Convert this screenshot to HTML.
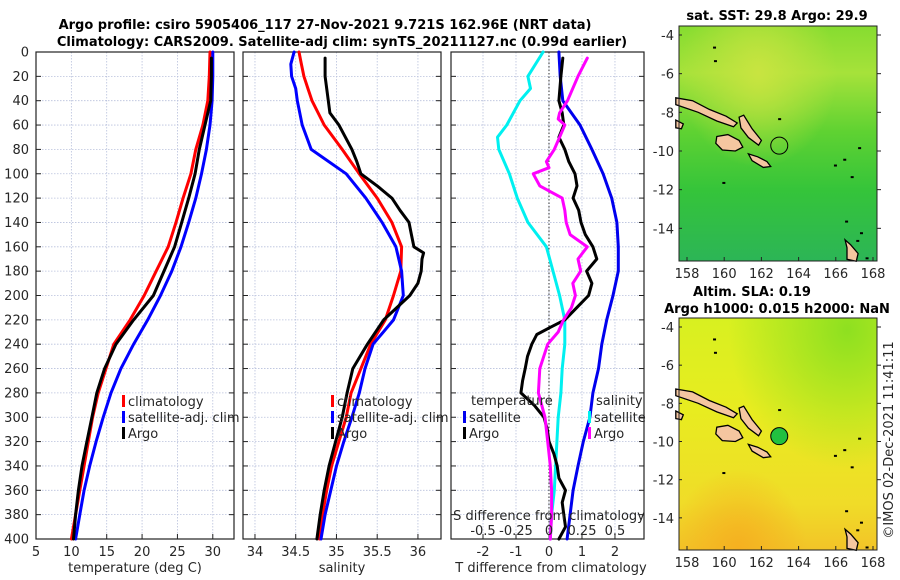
<!DOCTYPE html>
<html><head><meta charset="utf-8">
<style>
html,body{margin:0;padding:0;background:#fff;}
svg{display:block;font-family:"DejaVu Sans","Liberation Sans",sans-serif;}
</style></head>
<body>
<svg id="fig" width="900" height="580" viewBox="0 0 900 580" xmlns="http://www.w3.org/2000/svg">
<defs>
<linearGradient id="sstGrad" x1="0" y1="0" x2="0" y2="1">
<stop offset="0" stop-color="#86dc30"/><stop offset="0.2" stop-color="#a6e23a"/><stop offset="0.45" stop-color="#5fd232"/><stop offset="0.7" stop-color="#35c43a"/><stop offset="1" stop-color="#2cb556"/>
</linearGradient>
<linearGradient id="slaGrad" x1="0" y1="0" x2="0" y2="1">
<stop offset="0" stop-color="#d8f020"/><stop offset="0.4" stop-color="#e8ec20"/><stop offset="0.8" stop-color="#f0dc28"/><stop offset="1" stop-color="#f2c428"/>
</linearGradient>
<radialGradient id="slaGreen" cx="0.85" cy="0.05" r="0.6"><stop offset="0" stop-color="#8ee020"/><stop offset="1" stop-color="#8ee020" stop-opacity="0"/></radialGradient>
<radialGradient id="slaOrange" cx="0.3" cy="1" r="0.35"><stop offset="0" stop-color="#f5b020"/><stop offset="1" stop-color="#f5b020" stop-opacity="0"/></radialGradient>
<radialGradient id="sstYellow" cx="0.4" cy="0.2" r="0.4"><stop offset="0" stop-color="#c8e440"/><stop offset="1" stop-color="#c8e440" stop-opacity="0"/></radialGradient>
</defs>
<g id="layer"></g>
</svg>
<script>
// ---------- data ----------
const depths20 = [0,20,40,60,80,100,120,140,160,180,200,220,240,260,280,300,320,340,360,380,400];
const tempClim = [29.6,29.5,29.3,28.6,27.6,26.9,25.8,24.8,23.7,22.0,20.3,18.3,16.0,14.9,13.8,13.0,12.4,11.8,11.2,10.6,10.0];
const tempSat  = [30.0,30.0,29.9,29.6,29.1,28.4,27.6,26.6,25.5,24.2,22.6,20.8,18.8,17.0,15.6,14.5,13.5,12.6,11.8,11.2,10.6];
const argoDepths = [5,20,40,60,80,100,120,140,160,180,200,220,240,260,280,300,320,340,360,380,400];
const tempArgo = [29.8,29.8,29.7,28.9,28.1,27.5,26.6,25.6,24.6,23.1,21.6,18.8,16.3,14.7,13.6,12.9,12.2,11.5,11.0,10.6,10.3];

const salDepths = [0,10,20,30,40,60,80,100,120,140,160,180,200,220,240,260,280,300,320,340,360,380,400];
const salClim = [34.54,34.57,34.60,34.65,34.70,34.85,35.07,35.28,35.50,35.68,35.80,35.79,35.70,35.60,35.42,35.30,35.18,35.12,35.03,34.94,34.88,34.83,34.79];
const salSat  = [34.48,34.44,34.45,34.50,34.52,34.58,34.69,35.12,35.36,35.56,35.73,35.80,35.82,35.70,35.45,35.35,35.28,35.19,35.09,35.00,34.93,34.86,34.81];
const salArgoDepths = [5,20,40,50,60,80,90,100,110,120,130,140,150,160,165,170,180,190,200,220,240,260,280,300,320,340,360,380,400];
const salArgo = [34.86,34.86,34.90,34.92,35.03,35.19,35.25,35.30,35.50,35.68,35.78,35.89,35.92,35.95,36.07,36.05,36.04,36.00,35.90,35.58,35.38,35.20,35.13,35.07,34.99,34.91,34.85,34.80,34.76];

const tdDepths = [0,20,40,60,80,100,120,140,160,180,200,220,240,260,280,300,320,340,360,380,400];
const tdSat = [0.30,0.34,0.42,0.94,1.30,1.64,1.90,2.06,2.10,2.10,1.94,1.75,1.60,1.50,1.33,1.24,1.04,0.88,0.73,0.64,0.55];
const tdArgoDepths = [5,20,40,50,60,70,80,90,100,110,120,130,140,150,160,170,180,190,200,210,220,226,232,240,250,260,270,280,290,300,310,320,330,340,350,360,370,380,390,400];
const tdArgo = [0.42,0.36,0.30,0.40,0.45,0.30,0.48,0.60,0.79,0.85,0.73,0.90,0.97,1.10,1.33,1.45,1.14,1.30,1.20,0.84,0.48,0.05,-0.37,-0.52,-0.65,-0.72,-0.80,-0.85,-0.45,-0.15,-0.05,0.00,0.15,0.25,0.30,0.50,0.40,0.45,0.50,0.30];
const sdSatDepths = [0,20,30,40,60,70,80,100,120,140,160,180,200,220,240,260,280,300,320,340,360,380,400];
const sdSat = [-0.045,-0.16,-0.14,-0.22,-0.32,-0.39,-0.38,-0.30,-0.24,-0.16,-0.02,0.03,0.08,0.12,0.12,0.10,0.09,0.07,0.06,0.05,0.04,0.02,0.01];
const sdArgoDepths = [5,20,40,50,55,60,70,80,90,95,100,110,120,130,140,150,160,170,180,190,200,210,220,230,240,260,280,300,320,340,360,380,400];
const sdArgo = [0.29,0.22,0.14,0.08,0.07,0.12,0.08,0.04,-0.02,0.0,-0.12,-0.07,0.10,0.12,0.13,0.16,0.29,0.22,0.24,0.18,0.20,0.17,0.11,0.07,-0.01,-0.07,-0.08,-0.03,-0.01,0.01,0.02,0.02,0.01];

const depthTicks = [0,20,40,60,80,100,120,140,160,180,200,220,240,260,280,300,320,340,360,380,400];
const tempTicks = [5,10,15,20,25,30];
const salTicks = [34,34.5,35,35.5,36];
const salTickLabels = ["34","34.5","35","35.5","36"];
const tdTicks = [-2,-1,0,1,2];
const sdTicks = [-0.5,-0.25,0,0.25,0.5];
const sdTickLabels = ["-0.5","-0.25","0","0.25","0.5"];
const lonTicks = [158,160,162,164,166,168];
const latTicks = [-4,-6,-8,-10,-12,-14];

// ---------- helpers ----------
const NS = "http://www.w3.org/2000/svg";
const layer = document.getElementById('layer');
function mk(tag, attrs, parent){
  const e = document.createElementNS(NS, tag);
  for (const k in attrs) e.setAttribute(k, attrs[k]);
  (parent||layer).appendChild(e);
  return e;
}
function txt(s, x, y, opt, parent){
  const t = mk('text', Object.assign({x:x, y:y, 'font-size':13, fill:'#262626'}, opt||{}), parent);
  t.textContent = s;
  return t;
}
const Y0 = 52, Y1 = 539;
function yDepth(d){ return Y0 + d*(Y1-Y0)/400; }
function scale(d0,d1,r0,r1){ return v => r0 + (v-d0)*(r1-r0)/(d1-d0); }

const panels = [
  {name:'temperature-panel', x0:36, x1:234, xs: scale(5,33.0,36,234)},
  {name:'salinity-panel', x0:243, x1:441, xs: scale(33.853,36.283,243,441)},
  {name:'difference-panel', x0:451, x1:644, xs: scale(-2.97,2.88,451,644)}
];
const sdScale = scale(0,1,549,681);

function frame(p, vTicks, showDepthLabels){
  const g = mk('g', {});
  
  
  // grid
  vTicks.forEach(v => {
    const x = p.xs(v);
    const l = mk('line', {x1:x, x2:x, y1:Y0, y2:Y1, stroke:'#b8c0dc', 'stroke-width':0.8, 'stroke-dasharray':'1.5,1.5'}, g);
    
    
  });
  depthTicks.forEach(d => {
    const y = yDepth(d);
    const l = mk('line', {x1:p.x0, x2:p.x1, y1:y, y2:y, stroke:'#b8c0dc', 'stroke-width':0.8, 'stroke-dasharray':'1.5,1.5'}, g);
    
    
    mk('line', {x1:p.x0, x2:p.x0+5, y1:y, y2:y, stroke:'#222', 'stroke-width':1}, g);
    mk('line', {x1:p.x1-5, x2:p.x1, y1:y, y2:y, stroke:'#222', 'stroke-width':1}, g);
    if (showDepthLabels){
      const t = txt(String(d), 29, y+4.5, {'text-anchor':'end'}, g);
      
      
    }
  });
  vTicks.forEach(v => {
    const x = p.xs(v);
    mk('line', {x1:x, x2:x, y1:Y1, y2:Y1-5, stroke:'#222', 'stroke-width':1}, g);
  });
  const r = mk('rect', {x:p.x0, y:Y0, width:p.x1-p.x0, height:Y1-Y0, fill:'none', stroke:'#222', 'stroke-width':1.2}, g);
  
  
  return g;
}
function line(g, depths, vals, xs, color, name, width){
  const pts = depths.map((d,i) => xs(vals[i]).toFixed(1) + ',' + yDepth(d).toFixed(1)).join(' ');
  const pl = mk('polyline', {points:pts, fill:'none', stroke:color, 'stroke-width':width||3, 'stroke-linejoin':'round', 'stroke-linecap':'round'}, g);
  
  
  return pl;
}
function legendEntry(g, x, y, color, label, name){
  const b = mk('rect', {x:x, y:y-6, width:3, height:12, fill:color}, g);
  
  
  const t = txt(label, x+6, y+5, {}, g);
  
  
}

// ---------- titles ----------
const t1 = txt('Argo profile: csiro 5905406_117 27-Nov-2021 9.721S 162.96E (NRT data)', 325, 29, {'text-anchor':'middle','font-weight':'bold',fill:'#000'});


const t2 = txt('Climatology: CARS2009. Satellite-adj clim: synTS_20211127.nc (0.99d earlier)', 342, 46, {'text-anchor':'middle','font-weight':'bold',fill:'#000'});



// ---------- panel 1 ----------
const g1 = frame(panels[0], tempTicks, true);
line(g1, depths20, tempClim, panels[0].xs, '#ff0000', 'temperature-climatology-line');
line(g1, depths20, tempSat, panels[0].xs, '#0000ff', 'temperature-satellite-line');
line(g1, argoDepths, tempArgo, panels[0].xs, '#000000', 'temperature-argo-line');
tempTicks.forEach(v => {
  const t = txt(String(v), panels[0].xs(v), 556, {'text-anchor':'middle'}, g1);
  
  
});
const xt1 = txt('temperature (deg C)', 135, 572, {'text-anchor':'middle'}, g1);


legendEntry(g1, 122, 401, '#ff0000', 'climatology', 'legend-climatology');
legendEntry(g1, 122, 417, '#0000ff', 'satellite-adj. clim', 'legend-satellite-adj');
legendEntry(g1, 122, 433, '#000000', 'Argo', 'legend-argo');

// ---------- panel 2 ----------
const g2 = frame(panels[1], salTicks, false);
line(g2, salDepths, salClim, panels[1].xs, '#ff0000', 'salinity-climatology-line');
line(g2, salDepths, salSat, panels[1].xs, '#0000ff', 'salinity-satellite-line');
line(g2, salArgoDepths, salArgo, panels[1].xs, '#000000', 'salinity-argo-line');
salTicks.forEach((v,i) => {
  const t = txt(salTickLabels[i], panels[1].xs(v), 556, {'text-anchor':'middle'}, g2);
  
  
});
const xt2 = txt('salinity', 342, 572, {'text-anchor':'middle'}, g2);


legendEntry(g2, 331, 401, '#ff0000', 'climatology', 'legend-climatology-2');
legendEntry(g2, 331, 417, '#0000ff', 'satellite-adj. clim', 'legend-satellite-adj-2');
legendEntry(g2, 331, 433, '#000000', 'Argo', 'legend-argo-2');

// ---------- panel 3 ----------
const g3 = frame(panels[2], tdTicks, false);
const zl = mk('line', {x1:panels[2].xs(0), x2:panels[2].xs(0), y1:Y0, y2:Y1, stroke:'#333', 'stroke-width':1, 'stroke-dasharray':'1.5,2'}, g3);


line(g3, tdDepths, tdSat, panels[2].xs, '#0000ee', 'temperature-satellite-difference-line');
line(g3, sdSatDepths, sdSat, sdScale, '#00f0f0', 'salinity-satellite-difference-line');
line(g3, tdArgoDepths, tdArgo, panels[2].xs, '#000000', 'temperature-argo-difference-line');
line(g3, sdArgoDepths, sdArgo, sdScale, '#ff00ff', 'salinity-argo-difference-line');
tdTicks.forEach(v => {
  const t = txt(String(v), panels[2].xs(v), 556, {'text-anchor':'middle'}, g3);
  
  
});
const xt3 = txt('T difference from climatology', 551, 572, {'text-anchor':'middle'}, g3);


const st = txt('S difference from climatology', 549, 520, {'text-anchor':'middle'}, g3);


sdTicks.forEach((v,i) => {
  const t = txt(sdTickLabels[i], sdScale(v) - (v===0?0:0), 535, {'text-anchor':'middle'}, g3);
  
  
});
const lt = txt('temperature', 471, 405, {}, g3);


const ls = txt('salinity', 596, 405, {}, g3);


legendEntry(g3, 463, 417, '#0000ee', 'satellite', 'legend-temperature-satellite');
legendEntry(g3, 463, 433, '#000000', 'Argo', 'legend-temperature-argo');
legendEntry(g3, 588, 417, '#00f0f0', 'satellite', 'legend-salinity-satellite');
legendEntry(g3, 588, 433, '#ff00ff', 'Argo', 'legend-salinity-argo');

// ---------- maps ----------
const coasts = [
  [[157.4,-7.25],[158.3,-7.4],[159.2,-7.85],[160.1,-8.2],[160.7,-8.55],[160.5,-8.75],[159.6,-8.45],[158.6,-8.0],[157.4,-7.6]],
  [[159.6,-9.25],[160.2,-9.15],[160.8,-9.45],[161.0,-9.8],[160.6,-10.0],[159.9,-9.95],[159.55,-9.6]],
  [[160.8,-8.25],[161.05,-8.15],[161.5,-8.85],[162.0,-9.45],[161.85,-9.7],[161.3,-9.3],[160.9,-8.8]],
  [[161.3,-10.15],[161.8,-10.3],[162.3,-10.55],[162.5,-10.8],[162.1,-10.85],[161.5,-10.5]],
  [[166.5,-14.6],[166.8,-14.85],[167.2,-15.3],[167.1,-15.7],[166.6,-15.6],[166.6,-15.0]],
  [[157.4,-8.4],[157.8,-8.6],[157.7,-8.85],[157.4,-8.8]]
];
const smallIslands = [[159.9,-11.6],[165.9,-10.7],[166.4,-10.4],[166.8,-11.3],[167.3,-14.2],[167.1,-14.6],[167.6,-15.5],[159.4,-4.6],[159.45,-5.3],[162.9,-8.3],[166.5,-13.6],[167.2,-9.8]];
const argoLon = 162.96, argoLat = -9.72;

function drawMap(name, top, bottom, fillId, overlays, circleFill, title1, title2){
  const x0 = 679, x1 = 877;
  const lx = scale(158,168,687,873);
  const ly = scale(-4,-14,top+9,top+9+10*19.25*((bottom-top)/234));
  const g = mk('g', {});
  
  
  const bg = mk('rect', {x:x0, y:top, width:x1-x0, height:bottom-top, fill:'url(#'+fillId+')'}, g);
  
  
  overlays.forEach(o => mk('rect', {x:x0, y:top, width:x1-x0, height:bottom-top, fill:'url(#'+o+')'}, g));
  coasts.forEach(c => {
    const pts = c.map(p => lx(p[0]).toFixed(1)+','+ly(p[1]).toFixed(1)).join(' ');
    const pg = mk('polygon', {points:pts, fill:'#f5c6a0', stroke:'#000', 'stroke-width':1.3}, g);
    
    
  });
  smallIslands.forEach(s => {
    const r = mk('rect', {x:lx(s[0]), y:ly(s[1]), width:3, height:2, fill:'#000'}, g);
    
    
  });
  const c = mk('circle', {cx:lx(argoLon), cy:ly(argoLat), r:8.5, fill:circleFill, stroke:'#000', 'stroke-width':1}, g);
  
  
  mk('rect', {x:x0, y:top, width:x1-x0, height:bottom-top, fill:'none', stroke:'#222', 'stroke-width':1}, g);
  lonTicks.forEach(v => {
    const x = lx(v);
    mk('line', {x1:x, x2:x, y1:bottom, y2:bottom-4, stroke:'#222'}, g);
    const t = txt(String(v), x, bottom+17, {'text-anchor':'middle'}, g);
    
    
  });
  latTicks.forEach(v => {
    const y = ly(v);
    mk('line', {x1:x1, x2:x1+4, y1:y, y2:y, stroke:'#222'}, g);
    mk('line', {x1:x0, x2:x0+3, y1:y, y2:y, stroke:'#222'}, g);
    const t = txt(String(v), 674, y+5, {'text-anchor':'end'}, g);
    
    
  });
  return g;
}
drawMap('sst-map', 26, 261, 'sstGrad', ['sstYellow'], 'none');
drawMap('sla-map', 318, 550, 'slaGrad', ['slaGreen','slaOrange'], '#22c040');

const mt1 = txt('sat. SST: 29.8 Argo: 29.9', 777, 20, {'text-anchor':'middle','font-weight':'bold',fill:'#000'});


const mt2 = txt('Altim. SLA: 0.19', 752, 296, {'text-anchor':'middle','font-weight':'bold',fill:'#000'});


const mt3 = txt('Argo h1000: 0.015 h2000: NaN', 777, 313, {'text-anchor':'middle','font-weight':'bold',fill:'#000'});


const cp = txt('©IMOS 02-Dec-2021 11:41:11', 0, 0, {'text-anchor':'middle', transform:'translate(893,440) rotate(-90)'});


</script>
</body></html>
